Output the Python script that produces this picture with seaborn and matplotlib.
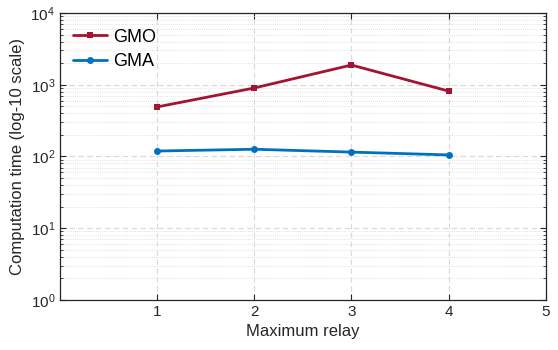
import pandas as pd
import matplotlib.pyplot as plt
from matplotlib.ticker import LogLocator, NullFormatter
import seaborn as sns

relay = [1, 2, 3, 4]
gmo = [490, 900, 1880, 815]
gma = [119, 126, 115, 105]

df = pd.DataFrame({'relay': relay * 2,
                   'time': gmo + gma,
                   'method': ['GMO'] * 4 + ['GMA'] * 4})

sns.set_style('white')
plt.rcParams['font.family'] = ['Liberation Sans', 'DejaVu Sans']

fig = plt.figure(figsize=(5.58, 3.5), dpi=100)
ax = fig.add_axes([0.1075, 0.143, 0.8705, 0.82])

sns.lineplot(data=df, x='relay', y='time', hue='method', style='method',
             palette={'GMO': '#A2142F', 'GMA': '#0072BD'},
             markers={'GMO': 's', 'GMA': 'o'}, dashes=False,
             markersize=5, linewidth=2, markeredgewidth=0, ax=ax)

ax.set_yscale('log')
ax.set_xlim(0, 5)
ax.set_ylim(1, 1e4)
ax.set_xticks([1, 2, 3, 4, 5])
ax.yaxis.set_minor_locator(LogLocator(base=10, subs=range(2, 10)))
ax.yaxis.set_minor_formatter(NullFormatter())

ax.grid(True, which='major', linestyle=(0, (5, 3)), color='#d9d9d9', linewidth=0.8)
ax.grid(True, which='minor', axis='y', linestyle=(0, (1, 1.5)), color='#d9d9d9', linewidth=0.6)
ax.set_axisbelow(True)

for s in ax.spines.values():
    s.set_color('#262626')
    s.set_linewidth(0.9)
ax.tick_params(which='both', direction='in', top=True, right=True, bottom=True, left=True,
               colors='#262626', labelcolor='#262626', labelsize=11)
ax.tick_params(which='major', length=4, width=0.8)
ax.tick_params(which='minor', length=2, width=0.6)

ax.set_xlabel('Maximum relay', fontsize=12, color='#262626')
ax.set_ylabel('Computation time (log-10 scale)', fontsize=12, color='#262626')

leg = ax.legend(loc='upper left', frameon=False, fontsize=13, handlelength=1.9,
                handletextpad=0.3, borderaxespad=0.6, labelspacing=0.4,
                bbox_to_anchor=(-0.01, 1.008))
for t in leg.get_texts():
    t.set_color('black')

fig.savefig('out.png', dpi=100)
